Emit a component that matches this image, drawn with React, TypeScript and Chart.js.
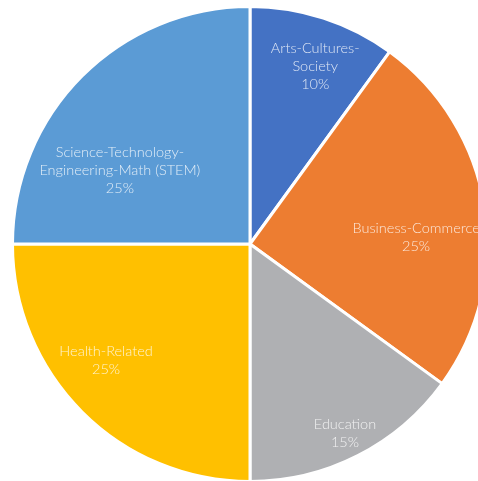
import React, { useEffect, useRef } from "react";
import { Chart, registerables } from "chart.js";

Chart.register(...registerables);

const categories: string[][] = [
  ["Arts-Cultures-", "Society"],
  ["Business-Commerce"],
  ["Education"],
  ["Health-Related"],
  ["Science-Technology-", "Engineering-Math (STEM)"],
];
const shares: number[] = [10, 25, 15, 25, 25];
const colors: string[] = ["#4472C4", "#ED7D31", "#AFB0B3", "#FFC000", "#5B9BD5"];
// label placement (fraction of radius, angular shift in degrees)
const labelRadiusFrac: number[] = [0.795, 0.7, 0.89, 0.78, 0.63];
const labelAngleShift: number[] = [2.2, 6.6, 0.3, 6, -15.4];

const labelPlugin = {
  id: "sliceLabels",
  afterDatasetsDraw(chart: any) {
    const ctx = chart.ctx;
    const meta = chart.getDatasetMeta(0);
    ctx.save();
    ctx.font = "300 14.5px Lato, 'Liberation Sans', Arial, sans-serif";
    ctx.fillStyle = "rgba(255,255,255,0.82)";
    ctx.textAlign = "center";
    ctx.textBaseline = "middle";
    const lineH = 18;
    meta.data.forEach((arc: any, i: number) => {
      const { x, y, startAngle, endAngle, outerRadius } = arc.getProps(
        ["x", "y", "startAngle", "endAngle", "outerRadius"],
        true
      );
      const mid = (startAngle + endAngle) / 2 + (labelAngleShift[i] * Math.PI) / 180;
      const r = outerRadius * labelRadiusFrac[i];
      const cx = x + Math.cos(mid) * r;
      const cy = y + Math.sin(mid) * r;
      const lines = [...categories[i], shares[i] + "%"];
      const y0 = cy - ((lines.length - 1) * lineH) / 2;
      lines.forEach((t, k) => ctx.fillText(t, cx, y0 + k * lineH));
    });
    ctx.restore();
  },
};

export default function App() {
  const ref = useRef<HTMLCanvasElement | null>(null);
  useEffect(() => {
    if (!ref.current) return;
    const chart = new Chart(ref.current, {
      type: "pie",
      data: {
        labels: categories.map((c) => c.join(" ")),
        datasets: [
          {
            data: shares,
            backgroundColor: colors,
            borderColor: "#ffffff",
            borderWidth: 3,
          },
        ],
      },
      options: {
        responsive: false,
        animation: false,
        layout: { padding: 0 },
        plugins: {
          legend: { display: false },
          tooltip: { enabled: false },
        },
      },
      plugins: [labelPlugin],
    });
    return () => chart.destroy();
  }, []);
  return (
    <div
      style={{
        position: "fixed",
        left: 0,
        top: 0,
        width: 478,
        height: 481,
        overflow: "hidden",
        background: "#fff",
      }}
    >
      <canvas
        ref={ref}
        width={478}
        height={478}
        style={{ position: "absolute", left: 11, top: 5, width: 478, height: 478 }}
      />
    </div>
  );
}
